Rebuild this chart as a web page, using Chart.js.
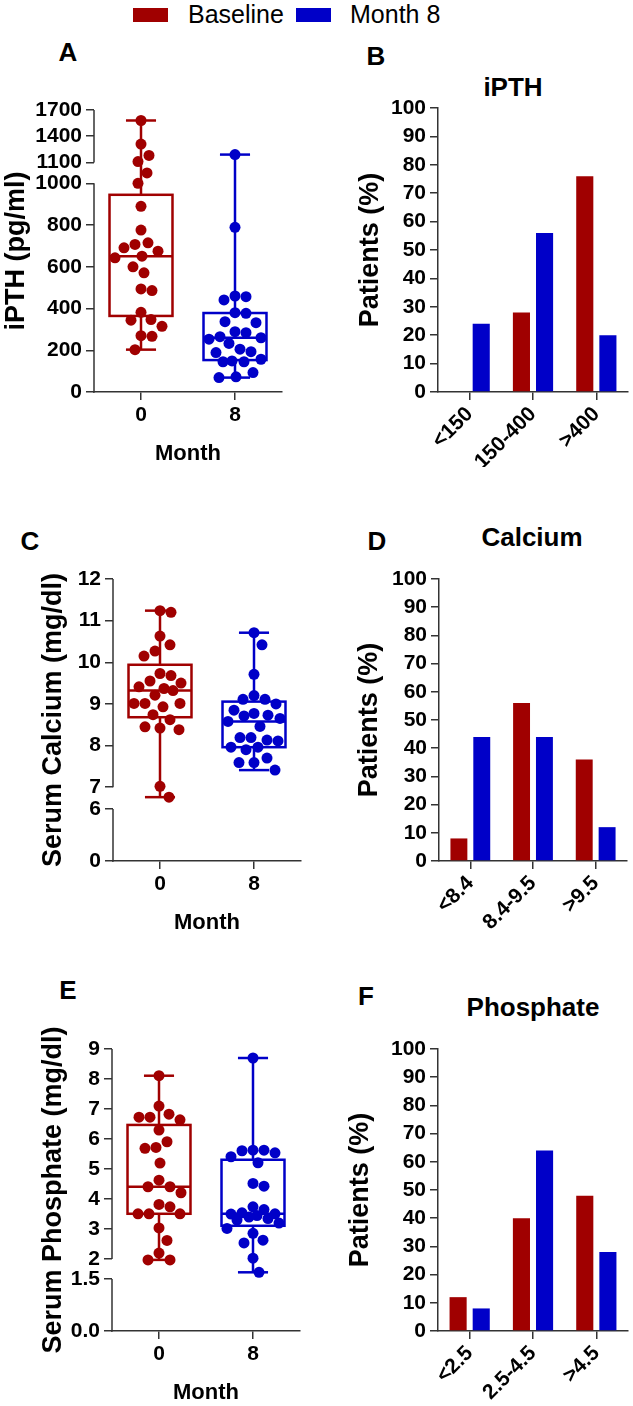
<!DOCTYPE html>
<html>
<head>
<meta charset="utf-8">
<script src="https://cdn.jsdelivr.net/npm/chart.js@4"></script>
<style>
  html, body { margin: 0; padding: 0; background: #fff; overflow: hidden; }
  body { width: 633px; height: 1406px; position: relative; font-family: Arial, "Liberation Sans", sans-serif; }
  canvas { position: absolute; }
  .txt { position: absolute; transform: translate(-50%, -50%); line-height: 1; white-space: nowrap; font-weight: bold; font-size: 26px; color: #000; }
  .sw { position: absolute; top: 8px; width: 35px; height: 14px; }
  .key { position: absolute; top: 14px; transform: translateY(-50%); line-height: 1; font-size: 25px; color: #000; }
</style>
</head>
<body>

<div class="sw" style="left:133px;background:#a00000"></div>
<div class="key" style="left:188px">Baseline</div>
<div class="sw" style="left:296px;background:#0000c8"></div>
<div class="key" style="left:350px">Month 8</div>

<div class="txt" style="left:68px;top:52px">A</div>
<div class="txt" style="left:376px;top:56px">B</div>
<div class="txt" style="left:30px;top:541px">C</div>
<div class="txt" style="left:377px;top:541px">D</div>
<div class="txt" style="left:68px;top:990px">E</div>
<div class="txt" style="left:366px;top:996px">F</div>

<div class="txt" style="left:513px;top:87px">iPTH</div>
<div class="txt" style="left:532px;top:537px">Calcium</div>
<div class="txt" style="left:533px;top:1007px">Phosphate</div>

<canvas id="chartA" width="292" height="387" style="left:0px;top:80px"></canvas>
<canvas id="chartB" width="278" height="389" style="left:354px;top:78px"></canvas>
<canvas id="chartC" width="274" height="387" style="left:37px;top:549px"></canvas>
<canvas id="chartD" width="278" height="387" style="left:353px;top:549px"></canvas>
<canvas id="chartE" width="273" height="387" style="left:37px;top:1019px"></canvas>
<canvas id="chartF" width="288" height="387" style="left:344px;top:1019px"></canvas>

<script>
const RED = '#a00000';
const BLUE = '#0000c8';
const AXIS = '#333';

// ---- data ----
const seriesNames = ['Baseline', 'Month 8'];
const months = ['0', '8'];

// individual patients (n = 25 per group)
const ipthBaseline = [1580, 1310, 1180, 1110, 1050, 1000, 890, 776, 715, 707, 691, 675, 651, 643, 600, 571, 494, 486, 382, 347, 344, 315, 270, 267, 203];
const ipthMonth8 = [1190, 789, 460, 457, 441, 380, 377, 337, 332, 289, 284, 265, 260, 253, 233, 205, 193, 189, 157, 149, 145, 145, 93, 73, 69];
const calciumBaseline = [11.24, 11.2, 10.63, 10.42, 10.27, 10.15, 9.73, 9.68, 9.55, 9.5, 9.41, 9.37, 9.32, 9.21, 9.01, 9.01, 9.01, 8.93, 8.74, 8.62, 8.45, 8.42, 8.38, 7.02, 6.76];
const calciumMonth8 = [10.71, 10.42, 9.71, 9.2, 9.11, 9.11, 9.0, 8.85, 8.77, 8.73, 8.71, 8.65, 8.58, 8.46, 8.19, 8.19, 8.13, 8.11, 7.96, 7.96, 7.9, 7.7, 7.59, 7.59, 7.41];
const phosBaseline = [8.11, 7.1, 6.83, 6.73, 6.73, 6.64, 6.3, 5.91, 5.72, 5.69, 5.2, 4.63, 4.41, 4.41, 4.21, 3.82, 3.74, 3.51, 3.51, 3.51, 3.04, 2.62, 2.2, 1.98, 1.98];
const phosMonth8 = [8.7, 5.63, 5.63, 5.61, 5.54, 5.41, 5.21, 4.52, 4.43, 3.74, 3.65, 3.54, 3.51, 3.5, 3.45, 3.4, 3.35, 3.3, 3.2, 3.02, 2.86, 2.63, 2.54, 2.03, 1.67];

// y ticks of the broken axes
const ipthTicks = [0, 200, 400, 600, 800, 1000, 1100, 1400, 1700];
const ipthTickLabels = ['0', '200', '400', '600', '800', '1000', '1100', '1400', '1700'];
const calciumTicks = [0, 6, 7, 8, 9, 10, 11, 12];
const calciumTickLabels = ['0', '6', '7', '8', '9', '10', '11', '12'];
const phosTicks = [0, 1.5, 2, 3, 4, 5, 6, 7, 8, 9];
const phosTickLabels = ['0.0', '1.5', '2', '3', '4', '5', '6', '7', '8', '9'];

// patients (%) per range
const ipthCats = ['<150', '150-400', '>400'];
const ipthPctBaseline = [0, 28, 76];
const ipthPctMonth8 = [24, 56, 20];
const calciumCats = ['<8.4', '8.4-9.5', '>9.5'];
const calciumPctBaseline = [8, 56, 36];
const calciumPctMonth8 = [44, 44, 12];
const phosCats = ['<2.5', '2.5-4.5', '>4.5'];
const phosPctBaseline = [12, 40, 48];
const phosPctMonth8 = [8, 64, 28];

Chart.defaults.font.family = 'Arial, "Liberation Sans", sans-serif';
Chart.defaults.color = '#000';

// linear scale with a piecewise mapping, for the broken y axes
class BrokenScale extends Chart.LinearScale {
  static id = 'broken';
  getPixelForValue(v) {
    if (v === null || isNaN(v)) return NaN;
    const k = this.options.knots;
    let f = k[k.length - 1][1];
    for (let i = 1; i < k.length; i++) {
      if (v <= k[i][0] || i === k.length - 1) {
        const [v0, f0] = k[i - 1], [v1, f1] = k[i];
        f = f0 + (v - v0) / (v1 - v0) * (f1 - f0);
        break;
      }
    }
    return this.getPixelForDecimal(f);
  }
  getValueForPixel(p) {
    const f = this.getDecimalForPixel(p);
    const k = this.options.knots;
    for (let i = 1; i < k.length; i++) {
      if (f <= k[i][1] || i === k.length - 1) {
        const [v0, f0] = k[i - 1], [v1, f1] = k[i];
        return v0 + (f - f0) / (f1 - f0) * (v1 - v0);
      }
    }
  }
}
Chart.register(BrokenScale);

function quant(sorted, p) {
  const pos = p * (sorted.length + 1) - 1;
  const lo = Math.max(0, Math.min(sorted.length - 1, Math.floor(pos)));
  const hi = Math.min(sorted.length - 1, lo + 1);
  return sorted[lo] + (pos - lo) * (sorted[hi] - sorted[lo]);
}

const boxPlot = {
  id: 'boxPlot',
  beforeDatasetsDraw(chart, args, o) {
    const ctx = chart.ctx, xs = chart.scales.x, ys = chart.scales.y;
    const y = v => ys.getPixelForValue(v);
    const line = (x1, y1, x2, y2) => { ctx.beginPath(); ctx.moveTo(x1, y1); ctx.lineTo(x2, y2); ctx.stroke(); };
    chart.data.datasets.forEach((ds, g) => {
      const v = ds.data.map(p => p.y).sort((a, b) => a - b);
      const q1 = quant(v, 0.25), med = quant(v, 0.5), q3 = quant(v, 0.75);
      const cx = xs.getPixelForValue(g);
      const bw = xs.getPixelForValue(g + o.boxHalf) - cx;
      const cw = xs.getPixelForValue(g + o.capHalf) - cx;
      ctx.save();
      ctx.strokeStyle = ds.backgroundColor;
      ctx.lineWidth = o.lineWidth;
      line(cx, y(q3), cx, y(v[v.length - 1]));
      line(cx, y(q1), cx, y(v[0]));
      line(cx - cw, y(v[v.length - 1]), cx + cw, y(v[v.length - 1]));
      line(cx - cw, y(v[0]), cx + cw, y(v[0]));
      ctx.strokeRect(cx - bw, y(q3), 2 * bw, y(q1) - y(q3));
      line(cx - bw, y(med), cx + bw, y(med));
      ctx.restore();
    });
  },
  afterDraw(chart, args, o) {
    const ctx = chart.ctx, ys = chart.scales.y, x = chart.chartArea.left;
    ctx.save();
    ctx.strokeStyle = AXIS;
    ctx.lineWidth = 1.5;
    o.axisSegments.forEach(([a, b]) => {
      ctx.beginPath();
      ctx.moveTo(x, ys.getPixelForValue(a) + (a === 0 ? 0.75 : 0));
      ctx.lineTo(x, ys.getPixelForValue(b));
      ctx.stroke();
    });
    ctx.restore();
  }
};

// spread points sideways (beeswarm), kept inside the box width
function swarm(chart, r, maxOff) {
  const xs = chart.scales.x, ys = chart.scales.y;
  const dx = 2 * r, dy = 2 * r * 1.5;
  chart.data.datasets.forEach((ds, g) => {
    const cx = xs.getPixelForValue(g);
    const placed = [];
    ds.data.forEach(pt => {
      const py = ys.getPixelForValue(pt.y);
      let best = 0, bestScore = -1;
      for (let k = 0; k <= 2 * maxOff; k++) {
        const off = k === 0 ? 0 : (k % 2 ? 1 : -1) * Math.ceil(k / 2);
        const px = cx + off;
        let score = Infinity;
        placed.forEach(q => {
          const s = ((q[0] - px) / dx) ** 2 + ((q[1] - py) / dy) ** 2;
          if (s < score) score = s;
        });
        if (score >= 1) { best = off; bestScore = score; break; }
        if (score > bestScore + 0.05) { best = off; bestScore = score; }
      }
      placed.push([cx + best, py]);
      pt.x = xs.getValueForPixel(cx + best);
    });
  });
  chart.update('none');
}

const tickFont = { size: 21, weight: 'bold' };
const gridOpts = { drawOnChartArea: false, drawTicks: true, tickLength: 8, color: AXIS, lineWidth: 1.5 };
const borderOpts = { display: true, color: AXIS, width: 1.5 };

function makeBox(id, base, m8, yTitle, yMax, ticks, tickLabels, knots, segments, pad, yWidth) {
  const chart = new Chart(document.getElementById(id), {
    type: 'scatter',
    data: {
      datasets: [
        { label: seriesNames[0], data: base.map(v => ({ x: 0, y: v })), backgroundColor: RED, pointRadius: 5.5, pointHoverRadius: 5.5, borderWidth: 0, clip: false },
        { label: seriesNames[1], data: m8.map(v => ({ x: 1, y: v })), backgroundColor: BLUE, pointRadius: 5.5, pointHoverRadius: 5.5, borderWidth: 0, clip: false }
      ]
    },
    options: {
      responsive: false,
      animation: false,
      devicePixelRatio: 1,
      layout: { padding: pad },
      plugins: {
        legend: { display: false },
        tooltip: { enabled: false },
        boxPlot: { boxHalf: 0.335, capHalf: 0.16, lineWidth: 2.5, axisSegments: segments }
      },
      scales: {
        x: {
          type: 'linear', min: -0.5, max: 1.5,
          afterBuildTicks: s => { s.ticks = months.map((m, i) => ({ value: i })); },
          afterFit: s => { s.height = 75; },
          ticks: { autoSkip: false, font: tickFont, padding: 3, maxRotation: 0, callback: (v, i) => months[i] },
          grid: gridOpts, border: borderOpts,
          title: { display: true, text: 'Month', font: { size: 22, weight: 'bold' }, padding: 0 }
        },
        y: {
          type: 'broken', min: 0, max: yMax, knots: knots,
          afterBuildTicks: s => { s.ticks = ticks.map(v => ({ value: v })); },
          afterFit: s => { s.width = yWidth; },
          ticks: { autoSkip: false, font: tickFont, padding: 4, callback: (v, i) => tickLabels[i] },
          grid: gridOpts, border: { display: false },
          title: { display: true, text: yTitle, font: { size: 27, weight: 'bold' }, padding: 0 }
        }
      }
    },
    plugins: [boxPlot]
  });
  swarm(chart, 5.5, 26);
  return chart;
}

function makeBars(id, cats, base, m8, pad, yWidth) {
  return new Chart(document.getElementById(id), {
    type: 'bar',
    data: {
      labels: cats,
      datasets: [
        { label: seriesNames[0], data: base, backgroundColor: RED, borderWidth: 0 },
        { label: seriesNames[1], data: m8, backgroundColor: BLUE, borderWidth: 0 }
      ]
    },
    options: {
      responsive: false,
      animation: false,
      devicePixelRatio: 1,
      layout: { padding: pad },
      categoryPercentage: 0.73,
      barPercentage: 0.74,
      plugins: { legend: { display: false }, tooltip: { enabled: false } },
      scales: {
        x: {
          afterFit: s => { s.height = 75; },
          ticks: { font: tickFont, minRotation: 45, maxRotation: 45, padding: 2 },
          grid: Object.assign({ offset: false }, gridOpts), border: borderOpts
        },
        y: {
          min: 0, max: 100,
          afterFit: s => { s.width = yWidth; },
          ticks: { stepSize: 10, autoSkip: false, font: tickFont, padding: 4 },
          grid: gridOpts, border: borderOpts,
          title: { display: true, text: 'Patients (%)', font: { size: 27, weight: 'bold' }, padding: 0 }
        }
      }
    }
  });
}

makeBox('chartA', ipthBaseline, ipthMonth8, 'iPTH (pg/ml)', 1700, ipthTicks, ipthTickLabels,
  [[0, 0], [1100, 0.814], [1700, 1]], [[0, 1000], [1100, 1700]],
  { top: 30, right: 10, bottom: 0, left: 0 }, 94);
makeBox('chartC', calciumBaseline, calciumMonth8, 'Serum Calcium (mg/dl)', 12, calciumTicks, calciumTickLabels,
  [[0, 0], [6, 0.184], [6.5, 0.188], [12, 1]], [[0, 6], [7, 12]],
  { top: 30, right: 10, bottom: 0, left: 0 }, 76);
makeBox('chartE', phosBaseline, phosMonth8, 'Serum Phosphate (mg/dl)', 9, phosTicks, phosTickLabels,
  [[0, 0], [1.5, 0.184], [2, 0.255], [9, 1]], [[0, 1.5], [2, 9]],
  { top: 30, right: 10, bottom: 0, left: 0 }, 75);

makeBars('chartB', ipthCats, ipthPctBaseline, ipthPctMonth8, { top: 30, right: 4, bottom: 0, left: 0 }, 84);
makeBars('chartD', calciumCats, calciumPctBaseline, calciumPctMonth8, { top: 30, right: 4, bottom: 0, left: 0 }, 86);
makeBars('chartF', phosCats, phosPctBaseline, phosPctMonth8, { top: 30, right: 4, bottom: 0, left: 0 }, 94);
</script>
</body>
</html>
